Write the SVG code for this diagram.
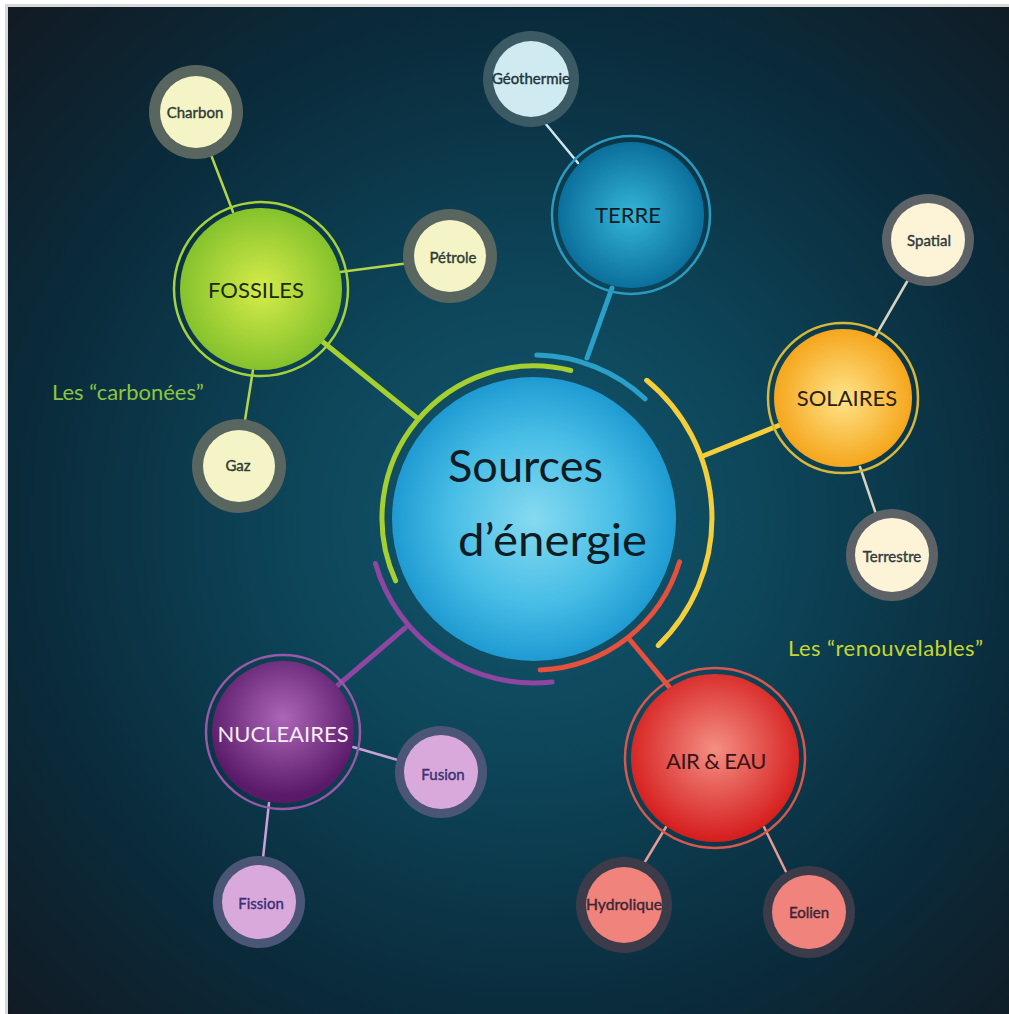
<svg xmlns="http://www.w3.org/2000/svg" width="1009" height="1014" viewBox="0 0 1009 1014">
  <defs>
    <radialGradient id="bg" cx="530" cy="520" r="720" gradientUnits="userSpaceOnUse">
      <stop offset="0" stop-color="#14596f"/>
      <stop offset="0.35" stop-color="#0d4458"/>
      <stop offset="0.7" stop-color="#0a2b3b"/>
      <stop offset="1" stop-color="#111b24"/>
    </radialGradient>
    <radialGradient id="gCenter" cx="0.5" cy="0.5" r="0.5">
      <stop offset="0" stop-color="#86daf0"/>
      <stop offset="0.6" stop-color="#47bde6"/>
      <stop offset="1" stop-color="#1f9bd2"/>
    </radialGradient>
    <radialGradient id="gFoss" cx="0.5" cy="0.5" r="0.5">
      <stop offset="0" stop-color="#d6ec4a"/>
      <stop offset="1" stop-color="#85c22c"/>
    </radialGradient>
    <radialGradient id="gTerre" cx="0.5" cy="0.5" r="0.5">
      <stop offset="0" stop-color="#35b6d8"/>
      <stop offset="1" stop-color="#0b6f9c"/>
    </radialGradient>
    <radialGradient id="gSol" cx="0.5" cy="0.5" r="0.5">
      <stop offset="0" stop-color="#ffe48a"/>
      <stop offset="1" stop-color="#f5a61c"/>
    </radialGradient>
    <radialGradient id="gNuc" cx="0.5" cy="0.4" r="0.55">
      <stop offset="0" stop-color="#ad66b8"/>
      <stop offset="1" stop-color="#5a1a6a"/>
    </radialGradient>
    <radialGradient id="gAir" cx="0.5" cy="0.45" r="0.55">
      <stop offset="0" stop-color="#f48f84"/>
      <stop offset="1" stop-color="#d51c1c"/>
    </radialGradient>
    <style>
      .conn { fill: none; stroke-width: 5; stroke-linecap: round; }
      .thin { stroke-width: 2.5; stroke-linecap: round; }
      .ring { fill: none; stroke-width: 2.5; }
      .main { font-family: Lato, "Open Sans", "DejaVu Sans", sans-serif; font-size: 22px; text-anchor: middle; }
      .leaf { font-family: Lato, "Open Sans", "DejaVu Sans", sans-serif; font-size: 15px; text-anchor: middle; stroke-width: 0.4; }
      .lab { font-family: Lato, "Open Sans", "DejaVu Sans", sans-serif; font-size: 22px; }
      .big { font-family: Lato, "Open Sans", "DejaVu Sans", sans-serif; font-size: 45px; fill: #0e1c24; }
    </style>
  </defs>

  <rect x="0" y="0" width="1009" height="1014" fill="#ffffff"/>
  <rect x="5" y="4" width="1004" height="1010" fill="#d8d8d8"/>
  <rect x="8" y="7" width="1001" height="1007" fill="url(#bg)"/>

  <g id="connectors">
    <path class="conn" stroke="#a6d030" d="M395.6,580.8 A152,152 0 0 1 570.8,370.5"/>
    <path class="conn" stroke="#2aa0c8" d="M536.8,355 A163,163 0 0 1 645.2,398.8"/>
    <path class="conn" stroke="#f5cf3a" d="M646.7,380.3 A178,178 0 0 1 658.3,645.4"/>
    <path class="conn" stroke="#e6503c" d="M679.5,561.9 A152,152 0 0 1 540.1,669.9"/>
    <path class="conn" stroke="#8e46a0" d="M552.1,682 A165,165 0 0 1 375.4,563.5"/>
    <line class="conn" stroke="#a6d030" x1="417" y1="418" x2="323" y2="342"/>
    <line class="conn" stroke="#2aa0c8" x1="587" y1="358" x2="612" y2="288"/>
    <line class="conn" stroke="#f5cf3a" x1="703" y1="456" x2="780" y2="425"/>
    <line class="conn" stroke="#e6503c" x1="630" y1="640" x2="670" y2="688"/>
    <line class="conn" stroke="#8e46a0" x1="405" y1="628" x2="337" y2="686"/>
    <line class="thin" stroke="#b4d44a" x1="208" y1="147" x2="233" y2="212"/>
    <line class="thin" stroke="#b4d44a" x1="340" y1="272" x2="417" y2="262"/>
    <line class="thin" stroke="#b4d44a" x1="253" y1="370" x2="245" y2="420"/>
    <line class="thin" stroke="#cfe6ee" x1="545" y1="123" x2="578" y2="163"/>
    <line class="thin" stroke="#d8d2c0" x1="912" y1="273" x2="875" y2="337"/>
    <line class="thin" stroke="#d8d2c0" x1="860" y1="467" x2="878" y2="520"/>
    <line class="thin" stroke="#c9a2da" x1="353" y1="747" x2="408" y2="763"/>
    <line class="thin" stroke="#c9a2da" x1="269" y1="803" x2="262" y2="867"/>
    <line class="thin" stroke="#e89a94" x1="666" y1="827" x2="640" y2="870"/>
    <line class="thin" stroke="#e89a94" x1="764" y1="827" x2="790" y2="880"/>
  </g>

  <g id="center">
    <circle cx="534" cy="519" r="142" fill="url(#gCenter)"/>
    <text class="big" x="448" y="482" textLength="155" lengthAdjust="spacingAndGlyphs">Sources</text>
    <text class="big" x="458" y="556" textLength="189" lengthAdjust="spacingAndGlyphs">d’énergie</text>
  </g>

  <g id="fossiles">
    <circle cx="261" cy="289" r="87" class="ring" stroke="#a4d23a"/>
    <circle cx="261" cy="289" r="81" fill="url(#gFoss)"/>
    <text class="main" x="256" y="298" fill="#1c2a10">FOSSILES</text>
  </g>
  <g id="charbon">
    <circle cx="196" cy="112" r="47" fill="#58665f"/>
    <circle cx="196" cy="112" r="36" fill="#f4f4c6"/>
    <text class="leaf" x="195" y="118" fill="#2f3b36" stroke="#2f3b36">Charbon</text>
  </g>
  <g id="petrole">
    <circle cx="450" cy="256" r="47" fill="#58665f"/>
    <circle cx="450" cy="256" r="36" fill="#f4f4c6"/>
    <text class="leaf" x="453" y="263" fill="#2f3b36" stroke="#2f3b36">Pétrole</text>
  </g>
  <g id="gaz">
    <circle cx="239" cy="466" r="47" fill="#58665f"/>
    <circle cx="239" cy="466" r="36" fill="#f4f4c6"/>
    <text class="leaf" x="238" y="471" fill="#2f3b36" stroke="#2f3b36">Gaz</text>
  </g>

  <g id="terre">
    <circle cx="631" cy="215" r="79" class="ring" stroke="#2a9ac0"/>
    <circle cx="631" cy="215" r="73" fill="url(#gTerre)"/>
    <text class="main" x="628" y="223" fill="#0c1c26">TERRE</text>
  </g>
  <g id="geothermie">
    <circle cx="531" cy="79" r="48" fill="#3c5a64"/>
    <circle cx="531" cy="79" r="38" fill="#cfeaf0"/>
    <text class="leaf" x="531" y="84" fill="#23333a" stroke="#23333a" textLength="78" lengthAdjust="spacingAndGlyphs">Géothermie</text>
  </g>

  <g id="solaires">
    <circle cx="843" cy="398" r="75" class="ring" stroke="#d7b83a"/>
    <circle cx="843" cy="398" r="69" fill="url(#gSol)"/>
    <text class="main" x="847" y="406" fill="#2a2010">SOLAIRES</text>
  </g>
  <g id="spatial">
    <circle cx="928" cy="240" r="46" fill="#5c6266"/>
    <circle cx="928" cy="240" r="37" fill="#fdf3d7"/>
    <text class="leaf" x="929" y="246" fill="#2f3a40" stroke="#2f3a40">Spatial</text>
  </g>
  <g id="terrestre">
    <circle cx="892" cy="555" r="46" fill="#5c6266"/>
    <circle cx="892" cy="555" r="37" fill="#fdf3d7"/>
    <text class="leaf" x="892" y="562" fill="#2f3a40" stroke="#2f3a40">Terrestre</text>
  </g>

  <g id="nucleaires">
    <circle cx="283" cy="732" r="77" class="ring" stroke="#9a58a8"/>
    <circle cx="283" cy="732" r="71" fill="url(#gNuc)"/>
    <text class="main" x="283" y="742" fill="#f6eef6">NUCLEAIRES</text>
  </g>
  <g id="fusion">
    <circle cx="441" cy="772" r="46" fill="#4b5676"/>
    <circle cx="441" cy="772" r="37" fill="#d9a9dc"/>
    <text class="leaf" x="443" y="780" fill="#3b3070" stroke="#3b3070">Fusion</text>
  </g>
  <g id="fission">
    <circle cx="259" cy="902" r="46" fill="#4b5676"/>
    <circle cx="259" cy="902" r="37" fill="#d9a9dc"/>
    <text class="leaf" x="261" y="909" fill="#3b3070" stroke="#3b3070">Fission</text>
  </g>

  <g id="air-eau">
    <circle cx="715" cy="758" r="90" class="ring" stroke="#d9574f"/>
    <circle cx="715" cy="758" r="84" fill="url(#gAir)"/>
    <text class="main" x="716" y="769" fill="#3a1212" letter-spacing="-0.6">AIR &amp; EAU</text>
  </g>
  <g id="hydrolique">
    <circle cx="624" cy="905" r="48" fill="#3b3b4a"/>
    <circle cx="624" cy="905" r="38" fill="#f0837c"/>
    <text class="leaf" x="624" y="910" fill="#3a2636" stroke="#3a2636" textLength="76" lengthAdjust="spacingAndGlyphs">Hydrolique</text>
  </g>
  <g id="eolien">
    <circle cx="809" cy="912" r="46" fill="#3b3b4a"/>
    <circle cx="809" cy="912" r="37" fill="#f0837c"/>
    <text class="leaf" x="809" y="918" fill="#3a2636" stroke="#3a2636">Eolien</text>
  </g>

  <g id="labels">
    <text class="lab" x="52" y="400" fill="#8cc63f">Les “carbonées”</text>
    <text class="lab" x="788" y="656" fill="#c6d631" textLength="195">Les “renouvelables”</text>
  </g>
</svg>
